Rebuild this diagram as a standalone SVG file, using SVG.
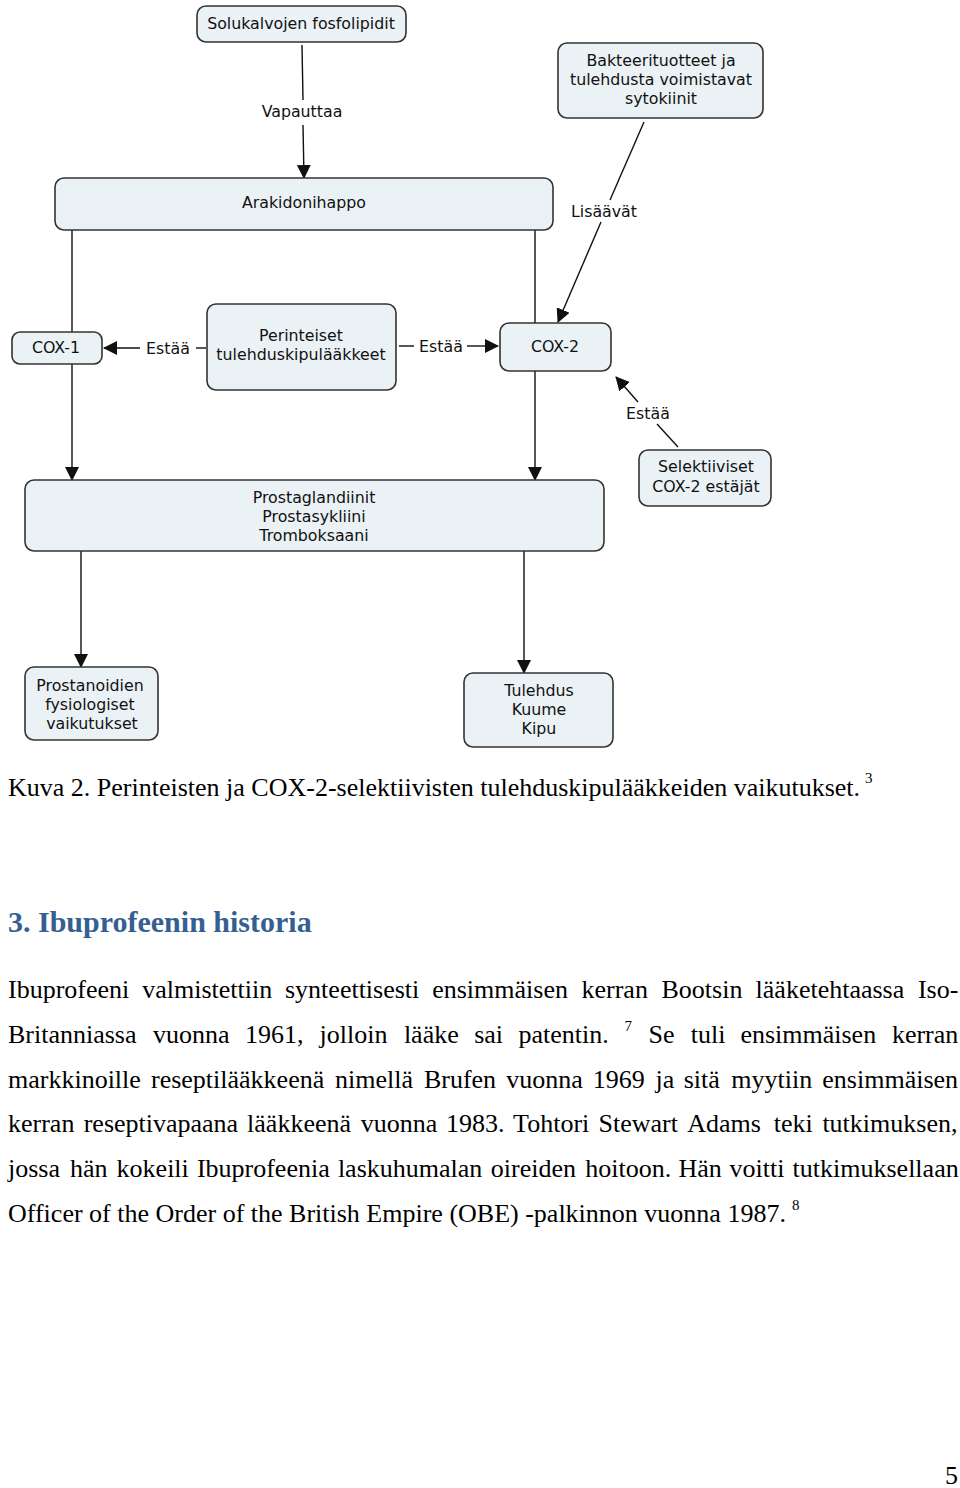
<svg xmlns="http://www.w3.org/2000/svg" width="960" height="1488" viewBox="0 0 960 1488">
<style>
.box{fill:#ebf2f5;stroke:#333;stroke-width:1.6}
.nt{font-family:"DejaVu Sans",Verdana,sans-serif;font-size:15.8px;fill:#111;text-anchor:middle}
.cl{stroke:#111;stroke-width:1.4;fill:none}
.lb{font-family:"DejaVu Sans",Verdana,sans-serif;font-size:15.8px;fill:#111;text-anchor:middle}
.body{font-family:"Liberation Serif","Times New Roman",serif;font-size:26px;fill:#000}
.sup{font-family:"Liberation Serif","Times New Roman",serif;font-size:15px;fill:#000}
.h{font-family:"Liberation Serif","Times New Roman",serif;font-size:30px;font-weight:bold;fill:#365f91}
</style>
<defs>
<marker id="ahL" markerWidth="14" markerHeight="14" refX="13" refY="7" orient="auto" markerUnits="userSpaceOnUse" viewBox="0 0 14 14">
<path d="M0,0 L14,7 L0,14 z" fill="#111"/>
</marker>
</defs>

<g id="connectors">
<line class="cl" x1="302" y1="45" x2="303" y2="100"/>
<line class="cl" x1="303" y1="125" x2="304" y2="178" marker-end="url(#ahL)"/>
<line class="cl" x1="644" y1="122" x2="610" y2="200"/>
<line class="cl" x1="601" y1="222" x2="558" y2="322" marker-end="url(#ahL)"/>
<line class="cl" x1="72" y1="230" x2="72" y2="480" marker-end="url(#ahL)"/>
<line class="cl" x1="535" y1="230" x2="535" y2="480" marker-end="url(#ahL)"/>
<line class="cl" x1="206" y1="348" x2="196" y2="348"/>
<line class="cl" x1="140" y1="348" x2="104" y2="348" marker-end="url(#ahL)"/>
<line class="cl" x1="399" y1="346" x2="414" y2="346"/>
<line class="cl" x1="467" y1="346" x2="498" y2="346" marker-end="url(#ahL)"/>
<line class="cl" x1="678" y1="447" x2="657" y2="424"/>
<line class="cl" x1="638" y1="402" x2="616" y2="377" marker-end="url(#ahL)"/>
<line class="cl" x1="81" y1="551" x2="81" y2="667" marker-end="url(#ahL)"/>
<line class="cl" x1="524" y1="551" x2="524" y2="673" marker-end="url(#ahL)"/>
<text class="lb" x="302" y="117">Vapauttaa</text>
<text class="lb" x="604" y="217">Lisäävät</text>
<text class="lb" x="168" y="354">Estää</text>
<text class="lb" x="441" y="352">Estää</text>
<text class="lb" x="648" y="419">Estää</text>
</g>

<g id="n-solukalvo"><rect class="box" x="197" y="6" width="209" height="36" rx="9"/><text class="nt" x="301" y="29">Solukalvojen fosfolipidit</text></g>
<g id="n-bakteeri"><rect class="box" x="558" y="43" width="205" height="75" rx="9"/><text class="nt" x="661" y="66">Bakteerituotteet ja</text><text class="nt" x="661" y="85">tulehdusta voimistavat</text><text class="nt" x="661" y="104">sytokiinit</text></g>
<g id="n-arakidoni"><rect class="box" x="55" y="178" width="498" height="52" rx="9"/><text class="nt" x="304" y="208">Arakidonihappo</text></g>
<g id="n-cox1"><rect class="box" x="12" y="332" width="90" height="32" rx="8"/><text class="nt" x="56" y="353">COX-1</text></g>
<g id="n-perinteiset"><rect class="box" x="207" y="304" width="189" height="86" rx="9"/><text class="nt" x="301" y="341">Perinteiset</text><text class="nt" x="301" y="360">tulehduskipulääkkeet</text></g>
<g id="n-cox2"><rect class="box" x="500" y="323" width="111" height="48" rx="9"/><text class="nt" x="555" y="352">COX-2</text></g>
<g id="n-selektiiviset"><rect class="box" x="639" y="450" width="132" height="56" rx="9"/><text class="nt" x="706" y="472">Selektiiviset</text><text class="nt" x="706" y="492">COX-2 estäjät</text></g>
<g id="n-prostaglandiinit"><rect class="box" x="25" y="480" width="579" height="71" rx="9"/><text class="nt" x="314" y="503">Prostaglandiinit</text><text class="nt" x="314" y="522">Prostasykliini</text><text class="nt" x="314" y="541">Tromboksaani</text></g>
<g id="n-prostanoidien"><rect class="box" x="25" y="667" width="133" height="73" rx="9"/><text class="nt" x="90" y="691">Prostanoidien</text><text class="nt" x="90" y="710">fysiologiset</text><text class="nt" x="92" y="729">vaikutukset</text></g>
<g id="n-tulehdus"><rect class="box" x="464" y="673" width="149" height="74" rx="9"/><text class="nt" x="539" y="696">Tulehdus</text><text class="nt" x="539" y="715">Kuume</text><text class="nt" x="539" y="734">Kipu</text></g>

<text class="body" x="8" y="796">Kuva 2. Perinteisten ja COX-2-selektiivisten tulehduskipulääkkeiden vaikutukset.</text>
<text class="sup" x="865" y="783">3</text>

<text class="h" x="8" y="932">3. Ibuprofeenin historia</text>

<text class="body" y="998"><tspan x="8">Ibuprofeeni</tspan><tspan x="142.2">valmistettiin</tspan><tspan x="285">synteettisesti</tspan><tspan x="432.2">ensimmäisen</tspan><tspan x="581.5">kerran</tspan><tspan x="661.5">Bootsin</tspan><tspan x="755.6">lääketehtaassa</tspan><tspan x="917.9">Iso-</tspan></text>
<text class="body" y="1043"><tspan x="8">Britanniassa</tspan><tspan x="153">vuonna</tspan><tspan x="244.9">1961,</tspan><tspan x="319.5">jolloin</tspan><tspan x="403.9">lääke</tspan><tspan x="474.2">sai</tspan><tspan x="518.5">patentin.</tspan><tspan x="648.6">Se</tspan><tspan x="690.7">tuli</tspan><tspan x="740.4">ensimmäisen</tspan><tspan x="891.9">kerran</tspan></text>
<text class="sup" x="624.5" y="1031">7</text>
<text class="body" y="1088"><tspan x="8">markkinoille</tspan><tspan x="151">reseptilääkkeenä</tspan><tspan x="335.1">nimellä</tspan><tspan x="423.9">Brufen</tspan><tspan x="506.2">vuonna</tspan><tspan x="592.8">1969</tspan><tspan x="655.6">ja</tspan><tspan x="683.7">sitä</tspan><tspan x="731.3">myytiin</tspan><tspan x="822.3">ensimmäisen</tspan></text>
<text class="body" y="1132"><tspan x="8">kerran</tspan><tspan x="83.7">reseptivapaana</tspan><tspan x="247.1">lääkkeenä</tspan><tspan x="360.7">vuonna</tspan><tspan x="446.1">1983.</tspan><tspan x="513.1">Tohtori</tspan><tspan x="598.5">Stewart</tspan><tspan x="687.2">Adams</tspan><tspan x="773.8">teki</tspan><tspan x="822.4">tutkimuksen,</tspan></text>
<text class="body" y="1177"><tspan x="8">jossa</tspan><tspan x="69.9">hän</tspan><tspan x="116.6">kokeili</tspan><tspan x="196.9">Ibuprofeenia</tspan><tspan x="337.9">laskuhumalan</tspan><tspan x="490.8">oireiden</tspan><tspan x="585.2">hoitoon.</tspan><tspan x="678.5">Hän</tspan><tspan x="729.6">voitti</tspan><tspan x="792.6">tutkimuksellaan</tspan></text>
<text class="body" x="8" y="1222">Officer of the Order of the British Empire (OBE) -palkinnon vuonna 1987.</text>
<text class="sup" x="792" y="1210">8</text>

<text class="body" x="958" y="1484" text-anchor="end">5</text>
</svg>
